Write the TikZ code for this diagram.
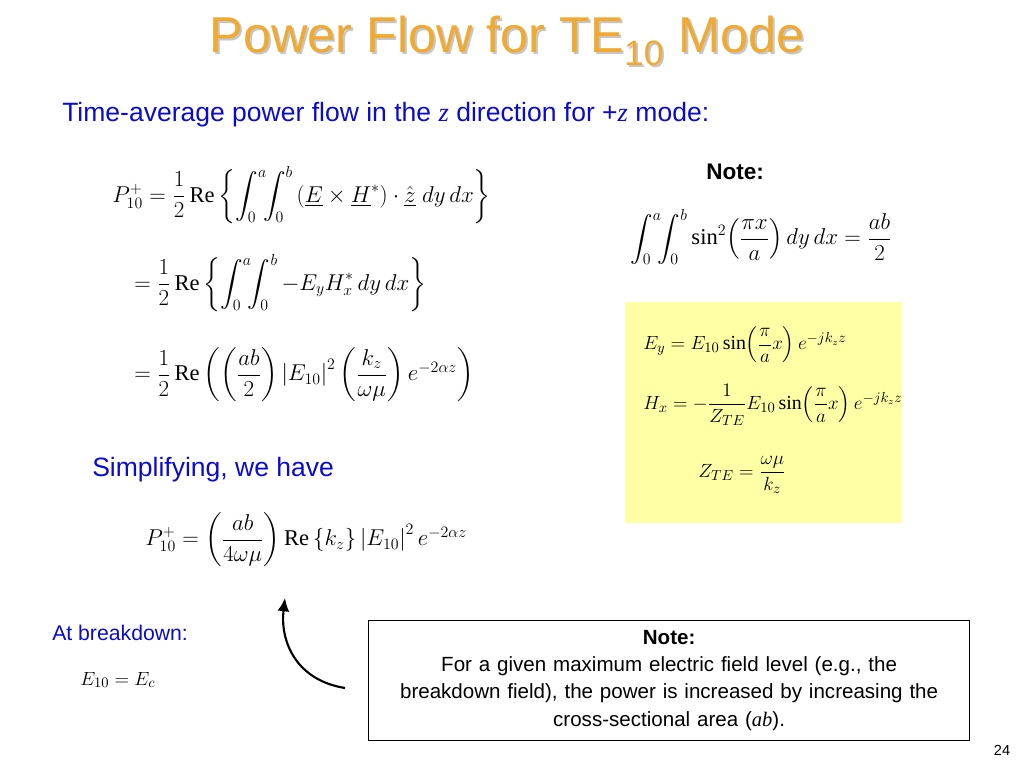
\documentclass[tikz,border=0pt]{standalone}
\usepackage{amsmath,amssymb}
\usepackage{fontspec}
\setmainfont{Liberation Serif}
\newfontfamily\arial{Liberation Sans}
\usetikzlibrary{positioning,arrows.meta}
\definecolor{titleorange}{RGB}{240,170,50}
\definecolor{slideblue}{RGB}{10,10,210}
\definecolor{noteyellow}{RGB}{255,255,165}
\tikzset{
  bluetext/.style={font=\arial\fontsize{20}{24}\selectfont, text=slideblue, anchor=west, inner sep=0pt},
  eqn/.style={font=\fontsize{17}{20}\selectfont, anchor=west, inner sep=0pt},
  titletext/.style={font=\arial\fontsize{38}{44}\selectfont},
}
\begin{document}
\begin{tikzpicture}[x=0.0265cm, y=-0.0265cm]
    \useasboundingbox (0,0) rectangle (1024,768);

    % title
    \node[titletext, text=gray!45] at (509,43) {Power Flow for TE\textsubscript{10} Mode};
    \node[titletext, text=titleorange] (title) at (507,41) {Power Flow for TE\textsubscript{10} Mode};

    \node[bluetext] (intro) at (62,115) {Time-average power flow in the {\rmfamily\itshape z} direction for +{\rmfamily\itshape z} mode:};

    % main equations
    \node[eqn] (eqa) at (112,195) {$P_{10}^{+}=\dfrac{1}{2}\,\mathrm{Re}\left\{\displaystyle\int_0^a\!\!\int_0^b \left(\underline{E}\times\underline{H}^{*}\right)\cdot\hat{\underline{z}}\;dy\,dx\right\}$};
    \node[eqn] (eqb) at (134,283) {$=\dfrac{1}{2}\,\mathrm{Re}\left\{\displaystyle\int_0^a\!\!\int_0^b -E_yH_x^{*}\,dy\,dx\right\}$};
    \node[eqn] (eqc) at (134,375) {$=\dfrac{1}{2}\,\mathrm{Re}\left(\left(\dfrac{ab}{2}\right)\left|E_{10}\right|^2\left(\dfrac{k_z}{\omega\mu}\right)e^{-2\alpha z}\right)$};

    % note on the integral
    \node[font=\arial\bfseries\fontsize{17}{20}\selectfont, anchor=west, inner sep=0pt] (note1) at (706,172) {Note:};
    \node[eqn] (ident) at (630,237) {$\displaystyle\int_0^a\!\!\int_0^b \sin^2\!\left(\dfrac{\pi x}{a}\right)dy\,dx=\dfrac{ab}{2}$};

    % yellow box
    \fill[noteyellow] (625,302) rectangle (902,523);
    \node[eqn, font=\fontsize{15}{18}\selectfont] (ey) at (643,345) {$E_y=E_{10}\sin\!\left(\dfrac{\pi}{a}x\right)e^{-jk_zz}$};
    \node[eqn, font=\fontsize{15}{18}\selectfont] (hx) at (643,405) {$H_x=-\dfrac{1}{Z_{TE}}E_{10}\sin\!\left(\dfrac{\pi}{a}x\right)e^{-jk_zz}$};
    \node[eqn, font=\fontsize{15}{18}\selectfont] (zte) at (698,475) {$Z_{TE}=\dfrac{\omega\mu}{k_z}$};

    % simplified result
    \node[bluetext] (simp) at (92,470) {Simplifying, we have};
    \node[eqn] (result) at (145,540) {$P_{10}^{+}=\left(\dfrac{ab}{4\omega\mu}\right)\mathrm{Re}\left\{k_z\right\}\left|E_{10}\right|^2e^{-2\alpha z}$};

    % breakdown
    \node[bluetext, font=\arial\fontsize{16}{19}\selectfont] (brk) at (52,633) {At breakdown:};
    \node[eqn, font=\fontsize{15}{18}\selectfont] (ec) at (80,680) {$E_{10}=E_c$};
    \coordinate (tail) at (345,688);
    \coordinate (head) at (285,598);
    \draw[line width=1.6pt, -{Latex[length=10pt,width=9pt]}] (tail) .. controls (295,680) and (280,640) .. (head);

    % note box
    \node[draw, line width=0.6pt, fill=white, text width=15.8cm, align=center,
          font=\arial\fontsize{15.5}{20.5}\selectfont, inner sep=2pt, anchor=north west,
          minimum height=3.18cm] (note2) at (368,620)
      {\textbf{Note:}\\For a given maximum electric field level (e.g., the\\breakdown field), the power is increased by increasing the\\cross-sectional area ({\rmfamily\itshape ab}).};

    \node[font=\arial\fontsize{11}{13}\selectfont] (page) at (1002,750) {24};
\end{tikzpicture}
\end{document}
